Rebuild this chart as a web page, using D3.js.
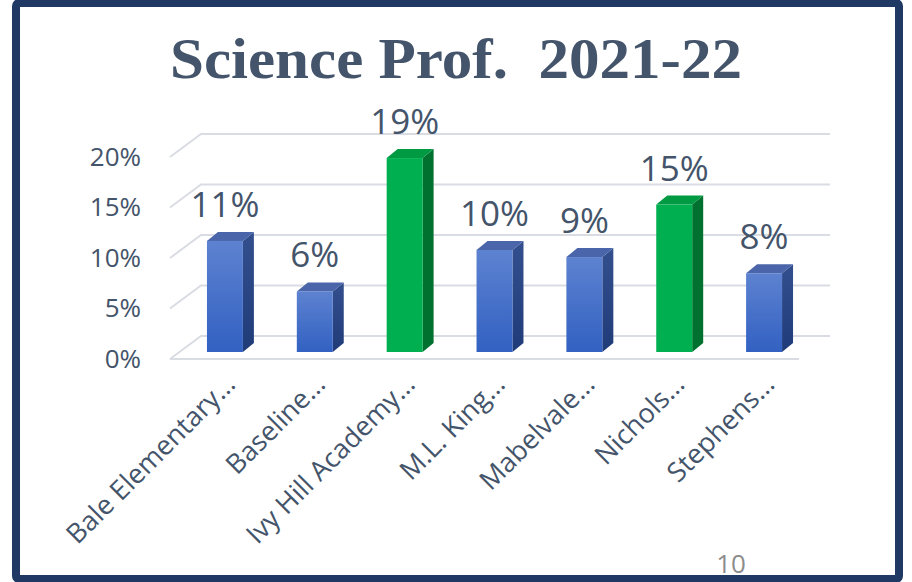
<!DOCTYPE html>
<meta charset="utf-8">

<!-- Load d3.js -->
<script src="https://d3js.org/d3.v7.min.js"></script>

<style>
  body {margin: 0; background: #fff;}
  text {font-family: "Open Sans", Arial, sans-serif;}
</style>

<div id="my_dataviz"></div>

<script>

// data
var schools = ["Bale Elementary…", "Baseline…", "Ivy Hill Academy…", "M.L. King…", "Mabelvale…", "Nichols…", "Stephens…"];
var sciProf = [0.110, 0.060, 0.192, 0.101, 0.094, 0.146, 0.078];
var highlight = [false, false, true, false, false, true, false];
var yTicks = [0, 0.05, 0.10, 0.15, 0.20];

var W = 912, H = 582;
var depthX = 31, depthY = 23;     // floor depth of the fake 3D grid
var barDX = 11, barDY = 9;        // bar side depth
var textColor = "#44546a";

var svg = d3.select("#my_dataviz")
  .append("svg")
    .attr("width", W)
    .attr("height", H);

// gradients for the bars
var defs = svg.append("defs");
function grad(id, c1, c2) {
  var g = defs.append("linearGradient").attr("id", id)
    .attr("x1", 0).attr("y1", 0).attr("x2", 0).attr("y2", 1);
  g.append("stop").attr("offset", "0%").attr("stop-color", c1);
  g.append("stop").attr("offset", "100%").attr("stop-color", c2);
}
grad("blueFront", "#5d82d0", "#3261c2");
grad("blueSide", "#344f8e", "#1f3b78");

// scales (back wall of the grid)
var y = d3.scaleLinear()
  .domain([0, 0.20])
  .range([336, 134]);

var x = d3.scaleBand()
  .domain(schools)
  .range([180, 809])
  .paddingInner(0.6)
  .paddingOuter(0.3);

var backLeft = 201, backRight = 830;

// grid lines: back line plus diagonal to the front
var grid = svg.append("g");
yTicks.forEach(function(t) {
  var yy = y(t);
  grid.append("path")
    .attr("d", "M" + (backLeft - depthX) + "," + (yy + depthY) + "L" + backLeft + "," + yy + "L" + backRight + "," + yy)
    .attr("fill", "none")
    .attr("stroke", "#d9dce2")
    .attr("stroke-width", 2);
});
// front floor edge
grid.append("line")
  .attr("x1", backLeft - depthX).attr("x2", 799)
  .attr("y1", y(0) + depthY).attr("y2", y(0) + depthY)
  .attr("stroke", "#d9dce2")
  .attr("stroke-width", 2);

// y axis labels
svg.append("g").selectAll("text")
  .data(yTicks)
  .join("text")
    .attr("x", 141)
    .attr("y", function(d) { return y(d) + depthY + 2; })
    .attr("text-anchor", "end")
    .attr("dominant-baseline", "middle")
    .style("font-size", "26px")
    .attr("fill", textColor)
    .text(function(d) { return Math.round(d * 100) + "%"; });

// bars: front face sits part way into the floor
var frontShift = 16;
function fy(v) { return y(v) + frontShift; }

var bars = svg.append("g").selectAll("g")
  .data(schools)
  .join("g");

bars.each(function(d, i) {
  var g = d3.select(this);
  var x0 = x(d), x1 = x(d) + x.bandwidth();
  var top = fy(sciProf[i]), bot = fy(0);
  var front = highlight[i] ? "#00b050" : "url(#blueFront)";
  var side = highlight[i] ? "#00712f" : "url(#blueSide)";
  var lid = highlight[i] ? "#009a43" : "#4a65a9";
  g.append("path")
    .attr("d", "M" + x1 + "," + bot + "L" + (x1 + barDX) + "," + (bot - barDY) + "L" + (x1 + barDX) + "," + (top - barDY) + "L" + x1 + "," + top + "Z")
    .attr("fill", side);
  g.append("path")
    .attr("d", "M" + x0 + "," + top + "L" + (x0 + barDX) + "," + (top - barDY) + "L" + (x1 + barDX) + "," + (top - barDY) + "L" + x1 + "," + top + "Z")
    .attr("fill", lid);
  g.append("rect")
    .attr("x", x0)
    .attr("y", top)
    .attr("width", x.bandwidth())
    .attr("height", bot - top)
    .attr("fill", front);
});

// value labels
svg.append("g").selectAll("text")
  .data(schools)
  .join("text")
    .attr("x", function(d) { return x(d) + x.bandwidth() / 2; })
    .attr("y", function(d, i) { return fy(sciProf[i]) - 24; })
    .attr("text-anchor", "middle")
    .style("font-size", "35px")
    .attr("fill", textColor)
    .text(function(d, i) { return Math.round(sciProf[i] * 100) + "%"; });

// category labels, rotated
svg.append("g").selectAll("text")
  .data(schools)
  .join("text")
    .attr("transform", function(d) {
      return "translate(" + (x(d) + x.bandwidth() / 2 + 12) + "," + 386 + ") rotate(-45)";
    })
    .attr("text-anchor", "end")
    .style("font-size", "27px")
    .attr("fill", textColor)
    .text(function(d) { return d; });

// title
svg.append("text")
  .attr("x", 170)
  .attr("y", 78)
  .attr("textLength", 572)
  .attr("lengthAdjust", "spacingAndGlyphs")
  .style("font-family", "'Liberation Serif', 'DejaVu Serif', serif")
  .style("font-weight", "bold")
  .style("font-size", "56px")
  .attr("fill", textColor)
  .attr("xml:space", "preserve")
  .text("Science Prof.  2021-22");

// page number
svg.append("text")
  .attr("x", 731)
  .attr("y", 573)
  .attr("text-anchor", "middle")
  .style("font-size", "26px")
  .attr("fill", "#8c8c8c")
  .text("10");

// slide frame
svg.append("rect")
  .attr("x", 16)
  .attr("y", 3)
  .attr("width", 883)
  .attr("height", 576)
  .attr("rx", 3)
  .attr("fill", "none")
  .attr("stroke", "#203864")
  .attr("stroke-width", 8);

</script>
